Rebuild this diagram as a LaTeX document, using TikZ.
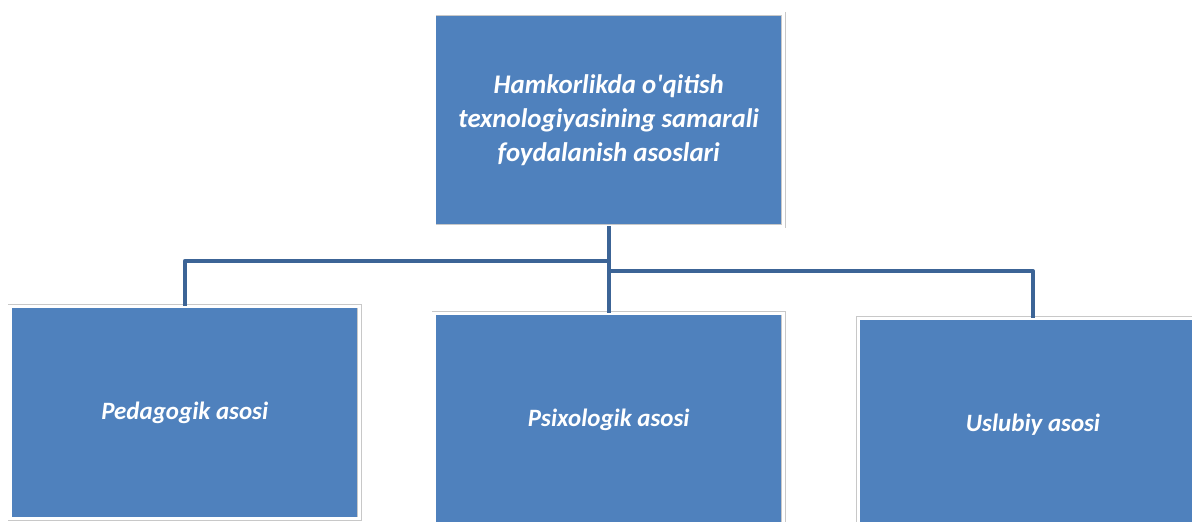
\documentclass[tikz,border=0pt]{standalone}
\usepackage{fontspec}
\setmainfont{Carlito}
\usepackage{tikz}
\usetikzlibrary{calc}
\definecolor{boxblue}{RGB}{79,129,189}
\definecolor{linkblue}{RGB}{60,100,150}
\definecolor{rimgray}{RGB}{200,200,200}

\begin{document}
\begin{tikzpicture}[x=0.02cm,y=-0.02cm,
    basis/.style={draw=rimgray, line width=0.3pt, double=white, double distance=1.8pt,
      fill=boxblue, minimum width=6.99cm, minimum height=4.25cm, inner sep=0pt,
      text=white, align=center, font=\fontsize{14.2}{19.3}\selectfont\bfseries\itshape},
    headbasis/.style={basis, font=\fontsize{15.3}{19.3}\selectfont\bfseries\itshape},
    link/.style={draw=linkblue, line width=2.3pt, line join=round}]
      \useasboundingbox (0,0) rectangle (1192,521);
      \node (top) at (608.75,120) [headbasis] {Hamkorlikda o\textquotesingle qitish\\texnologiyasining samarali\\foydalanish asoslari};
      \node (ped) at (184.75,412.5) [basis] {Pedagogik asosi};
      \node (psi) at (608.75,419.5) [basis] {Psixologik asosi};
      \node (usl) at (1033,424.5) [basis] {Uslubiy asosi};
      \coordinate (j1) at (608.75,261);
      \coordinate (j2) at (608.75,271);
      \draw[link] (top.south) -- (j1) -| (ped.north);
      \draw[link] (top.south) -- (psi.north);
      \draw[link] (j2) -| (usl.north);
    \end{tikzpicture}
\end{document}
